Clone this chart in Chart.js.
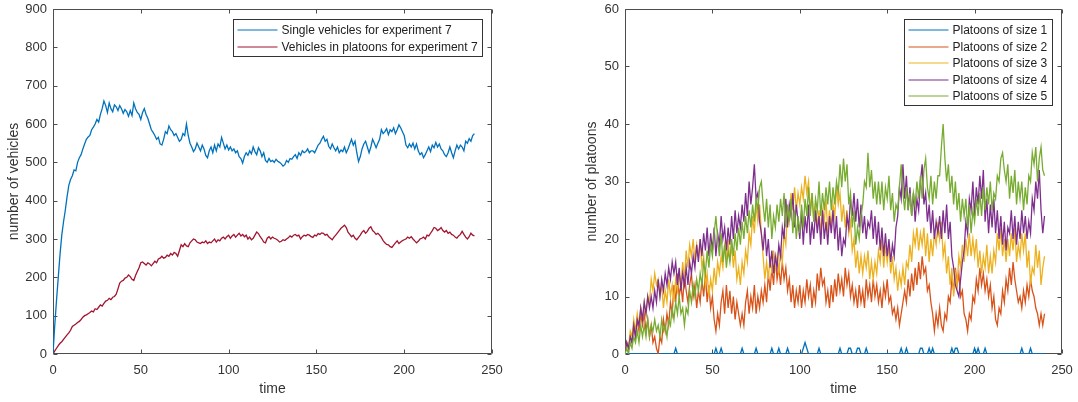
<!DOCTYPE html>
<html>
<head>
<meta charset="utf-8">
<script src="https://cdn.jsdelivr.net/npm/chart.js@4"></script>
<style>
  html, body { margin: 0; padding: 0; background: #fff; }
  body { width: 1078px; height: 402px; position: relative; overflow: hidden; }
  canvas { position: absolute; top: 0; }
  #vehicles { left: 0; }
  #platoons { left: 572px; }
</style>
</head>
<body>
<canvas id="vehicles" width="540" height="402"></canvas>
<canvas id="platoons" width="506" height="402"></canvas>
<script>
// experiment 7, one sample per time unit (t = 0 .. 240)
const singleVehicles = [
  0, 75, 140, 200, 260, 310, 345, 375, 410, 440, 455, 465, 480, 478, 500, 512, 520, 535, 548, 560,
  566, 570, 585, 592, 600, 612, 605, 625, 640, 660, 648, 630, 655, 640, 632, 650, 645, 635, 648, 640,
  628, 638, 632, 620, 635, 622, 655, 640, 630, 625, 612, 630, 640, 625, 615, 600, 585, 578, 570, 560,
  565, 548, 545, 560, 580, 575, 595, 585, 580, 570, 575, 565, 555, 560, 575, 570, 600, 570, 550, 540,
  528, 535, 550, 540, 530, 545, 535, 518, 512, 530, 540, 525, 545, 530, 548, 540, 565, 550, 535, 545,
  532, 540, 530, 535, 525, 530, 515, 510, 498, 515, 525, 518, 530, 522, 540, 528, 520, 538, 530, 515,
  525, 505, 500, 510, 502, 505, 500, 508, 503, 500, 496, 490, 494, 505, 500, 510, 508, 515, 520, 510,
  525, 518, 530, 525, 528, 535, 525, 530, 530, 525, 535, 545, 550, 560, 568, 555, 560, 542, 535, 548,
  538, 530, 540, 525, 532, 528, 540, 525, 535, 548, 560, 545, 555, 525, 502, 515, 535, 548, 555, 540,
  525, 540, 560, 550, 538, 550, 560, 585, 575, 580, 588, 572, 585, 580, 590, 575, 585, 598, 590, 580,
  570, 545, 538, 548, 540, 550, 535, 548, 530, 520, 525, 512, 520, 530, 540, 528, 545, 538, 552, 540,
  548, 535, 530, 520, 515, 525, 540, 525, 512, 530, 545, 535, 545, 540, 530, 555, 550, 562, 555, 570,
  575
];
const platoonVehicles = [
  0, 8, 15, 22, 28, 32, 38, 44, 50, 55, 62, 72, 75, 78, 82, 85, 90, 96, 100, 102,
  105, 108, 112, 110, 118, 116, 122, 128, 125, 132, 138, 140, 145, 142, 148, 150, 156, 170, 185, 190,
  192, 198, 200, 206, 202, 195, 192, 205, 215, 225, 238, 240, 236, 232, 238, 235, 230, 236, 242, 238,
  248, 250, 255, 250, 252, 258, 255, 262, 258, 265, 262, 255, 270, 285, 280, 288, 282, 280, 290, 295,
  300, 298, 292, 290, 288, 292, 290, 295, 288, 292, 290, 295, 300, 292, 298, 295, 302, 305, 300, 306,
  310, 302, 308, 312, 305, 310, 315, 308, 312, 306, 310, 300, 305, 298, 302, 310, 318, 314, 306, 300,
  292, 290, 302, 306, 300, 305, 302, 300, 297, 292, 294, 298, 296, 300, 303, 308, 305, 310, 312, 308,
  310, 300, 306, 310, 308, 312, 310, 306, 304, 310, 308, 314, 312, 316, 315, 310, 312, 306, 302, 298,
  305, 310, 316, 322, 328, 332, 336, 330, 318, 312, 306, 310, 302, 298, 304, 310, 318, 322, 315, 320,
  328, 332, 322, 318, 312, 315, 310, 304, 296, 290, 286, 285, 280, 278, 284, 290, 295, 288, 292, 296,
  298, 300, 305, 302, 306, 300, 295, 290, 294, 300, 302, 305, 300, 310, 308, 315, 322, 330, 328, 322,
  325, 330, 322, 318, 322, 315, 318, 312, 310, 305, 302, 308, 312, 320, 312, 305, 300, 306, 315, 310,
  308
];

const platoonSize1 = [
  0, 0, 0, 0, 0, 0, 0, 0, 0, 0, 0, 0, 0, 0, 0, 0, 0, 0, 0, 0,
  0, 0, 0, 0, 0, 0, 0, 0, 0, 1, 0, 0, 0, 0, 0, 0, 0, 0, 0, 0,
  0, 0, 0, 0, 0, 0, 0, 0, 0, 0, 0, 0, 1, 0, 0, 1, 0, 0, 0, 0,
  0, 0, 0, 0, 0, 0, 0, 1, 0, 0, 0, 0, 0, 0, 0, 1, 0, 0, 0, 0,
  0, 0, 0, 0, 1, 0, 0, 0, 1, 0, 0, 0, 0, 1, 0, 0, 0, 0, 0, 0,
  0, 0, 1, 2, 1, 0, 0, 0, 0, 0, 0, 1, 0, 0, 0, 0, 0, 0, 0, 0,
  0, 0, 0, 1, 0, 0, 0, 0, 1, 1, 0, 0, 0, 1, 1, 0, 0, 0, 1, 0,
  0, 0, 0, 0, 0, 0, 0, 0, 0, 0, 0, 0, 0, 0, 0, 0, 0, 0, 1, 0,
  0, 1, 0, 0, 0, 0, 0, 0, 0, 1, 1, 0, 0, 0, 1, 0, 1, 0, 0, 0,
  0, 0, 0, 0, 0, 0, 0, 1, 0, 1, 1, 0, 0, 0, 0, 0, 0, 0, 0, 0,
  1, 0, 1, 0, 0, 0, 1, 0, 0, 0, 0, 0, 0, 0, 0, 0, 0, 0, 0, 0,
  0, 0, 0, 0, 0, 0, 0, 1, 0, 0, 0, 0, 1, 0, 0, 0, 0, 0, 0, 0,
  0
];
const platoonSize2 = [
  0, 2, 1, 3, 2, 5, 3, 6, 4, 7, 5, 7, 4, 6, 3, 5, 2, 3, 1, 0,
  3, 2, 6, 4, 7, 5, 9, 7, 12, 9, 14, 10, 12, 9, 14, 11, 9, 12, 14, 10,
  12, 8, 11, 9, 13, 10, 14, 9, 12, 8, 10, 6, 4, 7, 5, 9, 11, 7, 12, 8,
  11, 7, 10, 6, 9, 7, 5, 7, 5, 9, 11, 7, 10, 8, 12, 7, 10, 8, 11, 9,
  12, 9, 14, 11, 15, 12, 17, 13, 15, 12, 16, 13, 15, 11, 13, 9, 12, 8, 11, 9,
  12, 8, 11, 9, 13, 10, 12, 8, 11, 9, 14, 11, 15, 12, 13, 9, 11, 8, 12, 9,
  13, 10, 14, 11, 13, 10, 15, 12, 14, 10, 12, 9, 11, 8, 12, 9, 11, 8, 13, 10,
  12, 9, 13, 10, 12, 9, 11, 8, 12, 10, 13, 9, 10, 7, 8, 6, 8, 5, 7, 9,
  11, 9, 13, 10, 14, 11, 15, 12, 16, 13, 17, 14, 15, 11, 12, 9, 7, 4, 7, 5,
  8, 5, 4, 7, 6, 10, 9, 13, 11, 15, 12, 14, 10, 11, 7, 6, 4, 7, 6, 10,
  9, 13, 11, 15, 12, 14, 11, 13, 10, 12, 8, 10, 6, 5, 8, 7, 11, 9, 13, 11,
  15, 12, 16, 13, 11, 9, 10, 8, 11, 9, 12, 10, 13, 11, 10, 8, 7, 5, 7, 5,
  7
];
const platoonSize3 = [
  0, 2, 1, 4, 3, 6, 4, 7, 5, 8, 6, 9, 7, 10, 9, 13, 11, 14, 12, 13,
  10, 12, 8, 11, 9, 13, 10, 12, 9, 13, 11, 14, 12, 16, 13, 18, 15, 19, 17, 20,
  16, 19, 17, 20, 15, 17, 12, 14, 10, 13, 11, 15, 12, 16, 14, 17, 15, 19, 17, 20,
  16, 19, 15, 18, 13, 15, 12, 16, 14, 18, 16, 21, 19, 24, 21, 26, 23, 26, 21, 17,
  13, 16, 13, 17, 14, 18, 15, 17, 14, 18, 16, 21, 19, 25, 23, 28, 25, 29, 25, 28,
  26, 29, 27, 31, 28, 30, 25, 28, 23, 26, 22, 25, 21, 25, 23, 27, 21, 25, 22, 26,
  24, 29, 26, 28, 23, 26, 22, 25, 21, 23, 18, 20, 15, 18, 14, 17, 14, 17, 15, 18,
  13, 16, 13, 16, 14, 18, 16, 20, 15, 19, 16, 19, 14, 17, 13, 15, 11, 14, 12, 15,
  12, 16, 15, 19, 16, 21, 19, 22, 18, 21, 19, 22, 17, 21, 16, 20, 17, 21, 19, 23,
  20, 23, 17, 19, 14, 17, 12, 15, 10, 14, 12, 17, 15, 19, 16, 20, 17, 21, 17, 20,
  17, 20, 15, 18, 14, 17, 15, 19, 14, 17, 14, 18, 16, 21, 18, 22, 17, 20, 16, 20,
  17, 21, 18, 22, 16, 19, 17, 21, 18, 21, 15, 18, 12, 15, 14, 19, 15, 18, 12, 15,
  17
];
const platoonSize4 = [
  0, 2, 1, 3, 2, 5, 3, 6, 5, 8, 6, 9, 7, 10, 8, 10, 8, 11, 9, 13,
  10, 13, 11, 14, 12, 15, 13, 16, 14, 16, 12, 15, 11, 14, 12, 15, 12, 16, 14, 17,
  15, 19, 16, 20, 17, 21, 18, 22, 17, 21, 18, 22, 17, 21, 19, 24, 20, 22, 18, 22,
  19, 24, 20, 25, 21, 24, 22, 26, 23, 28, 24, 30, 26, 29, 33, 27, 28, 23, 21, 18,
  22, 17, 20, 15, 18, 14, 17, 15, 19, 17, 22, 20, 27, 22, 26, 24, 28, 22, 26, 23,
  20, 25, 19, 24, 21, 26, 19, 23, 20, 25, 21, 24, 19, 25, 20, 23, 19, 24, 21, 25,
  20, 24, 18, 22, 17, 20, 19, 24, 22, 27, 24, 28, 23, 27, 22, 26, 21, 24, 20, 23,
  22, 25, 20, 24, 19, 23, 18, 22, 17, 21, 17, 20, 16, 19, 17, 22, 24, 29, 27, 33,
  27, 31, 25, 29, 24, 28, 23, 27, 25, 30, 33, 26, 28, 23, 26, 21, 25, 20, 23, 21,
  24, 20, 25, 21, 26, 20, 23, 17, 15, 12, 11, 10, 13, 16, 18, 23, 21, 27, 25, 30,
  24, 29, 26, 31, 27, 32, 23, 27, 21, 26, 22, 27, 21, 25, 20, 24, 19, 23, 18, 22,
  21, 25, 20, 24, 19, 23, 20, 25, 21, 24, 20, 23, 21, 27, 25, 30, 27, 32, 25, 21,
  24
];
const platoonSize5 = [
  0, 1, 0, 2, 1, 3, 2, 4, 2, 5, 3, 5, 3, 6, 3, 5, 4, 6, 4, 5,
  3, 6, 4, 5, 3, 6, 5, 8, 6, 9, 7, 10, 7, 8, 5, 8, 7, 11, 9, 12,
  10, 13, 11, 14, 12, 16, 14, 18, 15, 19, 17, 21, 24, 20, 17, 21, 16, 19, 15, 18,
  16, 20, 17, 21, 18, 22, 19, 23, 20, 24, 21, 25, 22, 26, 23, 27, 25, 29, 30, 26,
  23, 27, 22, 26, 20, 24, 22, 26, 23, 27, 24, 28, 22, 26, 23, 27, 21, 25, 20, 24,
  21, 26, 22, 27, 24, 29, 24, 28, 23, 27, 25, 30, 24, 28, 25, 29, 26, 30, 25, 29,
  26, 30, 28, 33, 29, 34, 30, 33, 26, 28, 22, 25, 19, 22, 20, 24, 26, 30, 29, 35,
  29, 32, 27, 30, 26, 30, 26, 30, 25, 29, 27, 31, 25, 28, 23, 26, 25, 29, 33, 28,
  25, 29, 25, 28, 24, 28, 26, 30, 27, 31, 27, 32, 34, 29, 27, 31, 26, 30, 27, 31,
  31, 36, 40, 34, 30, 33, 28, 31, 26, 30, 25, 28, 23, 27, 24, 27, 22, 26, 21, 25,
  23, 27, 24, 28, 24, 29, 25, 29, 26, 30, 25, 28, 27, 31, 30, 34, 35, 32, 30, 33,
  27, 31, 28, 32, 26, 30, 27, 30, 25, 29, 26, 31, 30, 35, 33, 36, 30, 34, 36, 32,
  31
];

const timeStep = 1;
const xTicks = { min: 0, max: 250, step: 50 };

const fontFamily = '"Liberation Sans", Arial, Helvetica, sans-serif';
const axisColor = '#4d4d4d';
Chart.defaults.font.family = fontFamily;
Chart.defaults.color = '#333';

const points = arr => arr.map((v, i) => ({ x: i * timeStep, y: v }));

// axes box with the tick marks pointing inward on all four sides
const boxAxes = {
  id: 'boxAxes',
  beforeDatasetsDraw(chart) {
    const { ctx, chartArea: a, scales: { x, y } } = chart;
    const L = Math.round(a.left) + 0.5, R = Math.round(a.right) - 0.5;
    const T = Math.round(a.top) + 0.5, B = Math.round(a.bottom) - 0.5;
    ctx.save();
    ctx.strokeStyle = axisColor;
    ctx.lineWidth = 1;
    ctx.beginPath();
    ctx.rect(L, T, R - L, B - T);
    x.ticks.forEach(t => {
      const px = Math.round(x.getPixelForValue(t.value)) + 0.5;
      ctx.moveTo(px, B); ctx.lineTo(px, B - 4);
      ctx.moveTo(px, T); ctx.lineTo(px, T + 4);
    });
    y.ticks.forEach(t => {
      const py = Math.round(y.getPixelForValue(t.value)) + 0.5;
      ctx.moveTo(L, py); ctx.lineTo(L + 4, py);
      ctx.moveTo(R, py); ctx.lineTo(R - 4, py);
    });
    ctx.stroke();
    ctx.restore();
  }
};

// framed legend in the upper right corner of the plot area
const boxLegend = {
  id: 'boxLegend',
  afterDraw(chart) {
    const { ctx, chartArea: a } = chart;
    const sets = chart.data.datasets;
    ctx.save();
    ctx.font = '12px ' + fontFamily;
    const textW = Math.max(...sets.map(d => ctx.measureText(d.label).width));
    const w = Math.round(48 + textW + 5);
    const h = Math.round(20 + (sets.length - 1) * 16.5);
    const left = Math.round(a.right - 10 - w) + 0.5;
    const top = Math.round(a.top + 10) + 0.5;
    ctx.fillStyle = '#fff';
    ctx.fillRect(left, top, w, h);
    ctx.strokeStyle = '#333';
    ctx.lineWidth = 1;
    ctx.strokeRect(left, top, w, h);
    ctx.textBaseline = 'middle';
    sets.forEach((d, i) => {
      const cy = Math.round(top + 10.5 + i * 16.5);
      ctx.strokeStyle = d.borderColor;
      ctx.lineWidth = 1.2;
      ctx.beginPath();
      ctx.moveTo(left + 4, cy);
      ctx.lineTo(left + 44, cy);
      ctx.stroke();
      ctx.fillStyle = '#222';
      ctx.fillText(d.label, left + 48, cy + 0.5);
    });
    ctx.restore();
  }
};

function plotOptions(yMax, yStep, yTitle, rightPad, titlePad) {
  return {
    responsive: false,
    animation: false,
    layout: { padding: { top: 9, right: rightPad, bottom: 0, left: 0 } },
    elements: { point: { radius: 0 }, line: { borderWidth: 1.3, tension: 0 } },
    plugins: { legend: { display: false }, tooltip: { enabled: false } },
    scales: {
      x: {
        type: 'linear', min: xTicks.min, max: xTicks.max,
        ticks: { stepSize: xTicks.step, padding: 9, maxRotation: 0, font: { size: 13 } },
        grid: { display: false, drawTicks: false },
        border: { display: false },
        title: { display: true, text: 'time', font: { size: 14 }, padding: { top: 0, bottom: 4 } },
        afterFit: s => { s.height = 48; s.paddingLeft = 0; s.paddingRight = 0; }
      },
      y: {
        min: 0, max: yMax,
        ticks: { stepSize: yStep, padding: 6, font: { size: 13 } },
        grid: { display: false, drawTicks: false },
        border: { display: false },
        title: { display: true, text: yTitle, font: { size: 14 }, padding: { top: titlePad, bottom: 0 } },
        // the top label may overhang the plot; keep the plot box where the layout padding puts it
        afterFit: s => { s.width = 53; s.paddingTop = 0; s.paddingBottom = 0; }
      }
    }
  };
}

new Chart(document.getElementById('vehicles'), {
  type: 'line',
  data: {
    datasets: [
      { label: 'Single vehicles for experiment 7', data: points(singleVehicles), borderColor: '#0072BD' },
      { label: 'Vehicles in platoons for experiment 7', data: points(platoonVehicles), borderColor: '#A2142F' }
    ]
  },
  options: plotOptions(900, 100, 'number of vehicles', 48, 6),
  plugins: [boxAxes, boxLegend]
});

const sizeColors = ['#0072BD', '#D95319', '#EDB120', '#7E2F8E', '#77AC30'];
const sizeSeries = [platoonSize1, platoonSize2, platoonSize3, platoonSize4, platoonSize5];

new Chart(document.getElementById('platoons'), {
  type: 'line',
  data: {
    datasets: sizeSeries.map((s, i) => ({
      label: 'Platoons of size ' + (i + 1),
      data: points(s),
      borderColor: sizeColors[i],
      order: sizeSeries.length - i   // later sizes drawn on top
    }))
  },
  options: plotOptions(60, 10, 'number of platoons', 16, 12),
  plugins: [boxAxes, boxLegend]
});
</script>
</body>
</html>
